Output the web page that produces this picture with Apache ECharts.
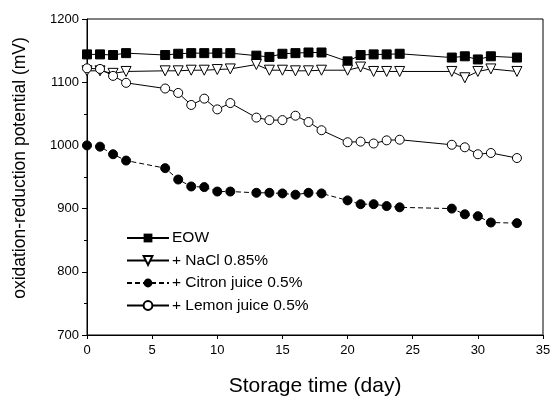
<!DOCTYPE html>
<html>
<head>
<meta charset="utf-8">
<script src="https://cdn.jsdelivr.net/npm/echarts@6/dist/echarts.min.js"></script>
<style>
html,body{margin:0;padding:0;background:#fff;}
#main{width:559px;height:406px;}
</style>
</head>
<body>
<div id="main"></div>
<script>
var days = [0,1,2,3,6,7,8,9,10,11,13,14,15,16,17,18,20,21,22,23,24,28,29,30,31,33];
var eow = [1144,1144,1143,1146,1143,1145,1146,1146,1146,1146,1142,1140,1145,1146,1147,1147,1133,1143,1144,1144,1145,1139,1141,1136,1141,1139];
var nacl = [1118,1118,1114,1117,1118,1118,1119,1119,1120,1121,1128,1119,1119,1118,1118,1119,1119,1124,1117,1117,1117,1117,1107,1117,1121,1117];
var citron = [1000,998,986,976,964,946,935,934,927,927,925,925,924,922,925,924,913,907,907,904,902,900,891,888,878,877];
var lemon = [1122,1121,1110,1099,1090,1083,1064,1074,1057,1067,1044,1040,1040,1047,1037,1024,1005,1006,1003,1008,1009,1001,997,986,988,980];
var seriesNames = ['EOW', '+ NaCl 0.85%', '+ Citron juice 0.5%', '+ Lemon juice 0.5%'];
var xTicks = [0,5,10,15,20,25,30,35];
var yTicks = [700,800,900,1000,1100,1200];

function pairs(vals){ return days.map(function(d,i){ return [d, vals[i]]; }); }

var font = 'Arial, "Liberation Sans", sans-serif';
var chart = echarts.init(document.getElementById('main'), null, {renderer:'canvas'});
chart.setOption({
  backgroundColor: '#fff',
  animation: false,
  grid: {left: 87, right: 16, top: 19, bottom: 71, show: true, borderColor: '#000', borderWidth: 1, backgroundColor: 'transparent'},
  legend: {
    orient: 'vertical', left: 121, top: 225,
    itemWidth: 42, itemHeight: 11, itemGap: 6.5,
    textStyle: {fontFamily: font, fontSize: 15.5, color: '#000', padding: [0,0,0,-2]},
    data: seriesNames
  },
  xAxis: {
    type: 'value', min: xTicks[0], max: xTicks[xTicks.length-1], interval: 5,
    name: 'Storage time (day)', nameLocation: 'middle', nameGap: 41,
    nameTextStyle: {fontFamily: font, fontSize: 21, color: '#000'},
    axisLine: {lineStyle: {color: '#000', width: 1}},
    axisTick: {show: true, length: 4, lineStyle: {color: '#000'}},
    axisLabel: {fontFamily: font, fontSize: 13, color: '#000', margin: 9},
    splitLine: {show: false}
  },
  yAxis: {
    type: 'value', min: yTicks[0], max: yTicks[yTicks.length-1], interval: 100,
    name: 'oxidation-reduction potential (mV)', nameLocation: 'middle', nameGap: 58,
    nameTextStyle: {fontFamily: font, fontSize: 17.5, color: '#000', padding: [0,0,0,18]},
    axisLine: {lineStyle: {color: '#000', width: 1}},
    axisTick: {show: true, length: 5, lineStyle: {color: '#000'}},
    minorTick: {show: true, splitNumber: 2, length: 3, lineStyle: {color: '#000'}},
    axisLabel: {fontFamily: font, fontSize: 13, color: '#000', margin: 8, formatter: function(v){ return String(v); }},
    splitLine: {show: false}
  },
  series: [
    {name: seriesNames[0], type: 'line', data: pairs(eow), symbol: 'rect', symbolSize: 9,
     itemStyle: {color: '#000', borderColor: '#000'}, lineStyle: {color: '#000', width: 1}},
    {name: seriesNames[1], type: 'line', data: pairs(nacl), symbol: 'triangle', symbolRotate: 180, symbolSize: 10,
     itemStyle: {color: '#fff', borderColor: '#000', borderWidth: 1}, lineStyle: {color: '#000', width: 1}},
    {name: seriesNames[2], type: 'line', data: pairs(citron), symbol: 'circle', symbolSize: 9,
     itemStyle: {color: '#000', borderColor: '#000'}, lineStyle: {color: '#000', width: 1, type: [5,3]}},
    {name: seriesNames[3], type: 'line', data: pairs(lemon), symbol: 'circle', symbolSize: 9,
     itemStyle: {color: '#fff', borderColor: '#000', borderWidth: 1}, lineStyle: {color: '#000', width: 1}}
  ]
});
</script>
</body>
</html>
